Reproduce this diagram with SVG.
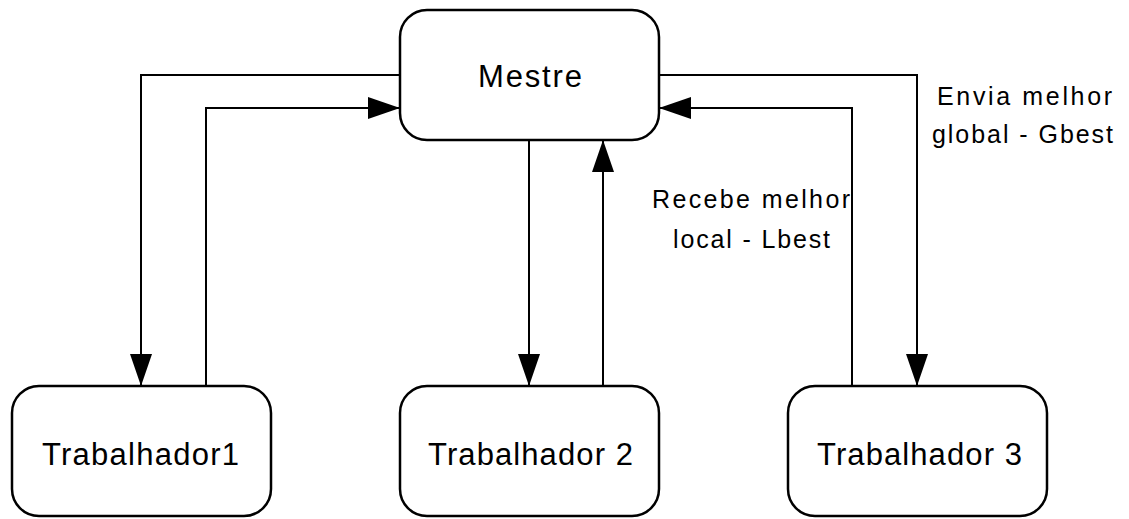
<svg xmlns="http://www.w3.org/2000/svg" width="1129" height="519" viewBox="0 0 1129 519">
<style>
.box{fill:#fff;stroke:#000;stroke-width:2.5}
.lbl{font-family:"Liberation Sans",Arial,sans-serif;font-size:31px;fill:#000}
.note{font-family:"Liberation Sans",Arial,sans-serif;font-size:25px;fill:#000}
.c{fill:none;stroke:#000;stroke-width:2}
</style>
<defs>
<marker id="ah" markerWidth="32" markerHeight="22" refX="32" refY="11" orient="auto" markerUnits="userSpaceOnUse">
<path d="M0,0 L32,11 L0,22 Z" fill="#000"/>
</marker>
</defs>
<rect width="1129" height="519" fill="#fff"/>
<g id="connectors">
<path class="c" d="M400,75 H141 V386" marker-end="url(#ah)"/>
<path class="c" d="M206,386 V108 H400" marker-end="url(#ah)"/>
<path class="c" d="M529,140 V386" marker-end="url(#ah)"/>
<path class="c" d="M603,386 V140" marker-end="url(#ah)"/>
<path class="c" d="M659,75 H917 V386" marker-end="url(#ah)"/>
<path class="c" d="M852,386 V108 H659" marker-end="url(#ah)"/>
</g>
<g id="mestre">
<rect class="box" x="400" y="10" width="259" height="130" rx="27" ry="27"/>
<text class="lbl" x="478" y="87" textLength="104" lengthAdjust="spacing">Mestre</text>
</g>
<g id="trabalhador1">
<rect class="box" x="12" y="386" width="259" height="130" rx="27" ry="27"/>
<text class="lbl" x="42" y="465" textLength="197" lengthAdjust="spacing">Trabalhador1</text>
</g>
<g id="trabalhador2">
<rect class="box" x="400" y="386" width="259" height="130" rx="27" ry="27"/>
<text class="lbl" x="428" y="465" textLength="205" lengthAdjust="spacing">Trabalhador 2</text>
</g>
<g id="trabalhador3">
<rect class="box" x="788" y="386" width="259" height="130" rx="27" ry="27"/>
<text class="lbl" x="817" y="465" textLength="205" lengthAdjust="spacing">Trabalhador 3</text>
</g>
<g id="labels">
<text class="note" x="937" y="105" textLength="175" lengthAdjust="spacing">Envia melhor</text>
<text class="note" x="932" y="143" textLength="181" lengthAdjust="spacing">global - Gbest</text>
<text class="note" x="652" y="208" textLength="198" lengthAdjust="spacing">Recebe melhor</text>
<text class="note" x="673" y="248" textLength="157" lengthAdjust="spacing">local - Lbest</text>
</g>
</svg>
